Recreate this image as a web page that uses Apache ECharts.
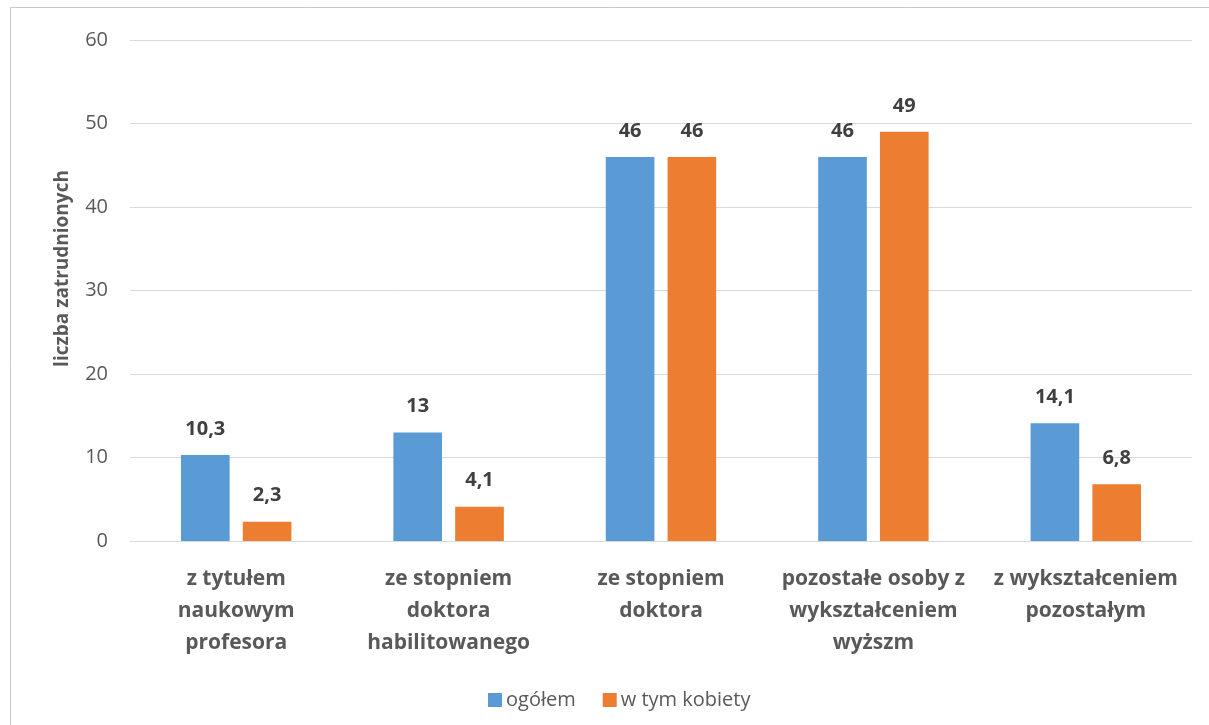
<!DOCTYPE html>
<html>
<head>
<meta charset="utf-8">
<script src="https://cdn.jsdelivr.net/npm/echarts@6/dist/echarts.min.js"></script>
<style>
  html, body { margin: 0; padding: 0; background: #fff; }
  #chart { width: 1209px; height: 725px; }
</style>
</head>
<body>
<div id="chart"></div>
<script>
// Employees by academic degree
const categories = [
  'z tytułem\nnaukowym\nprofesora',
  'ze stopniem\ndoktora\nhabilitowanego',
  'ze stopniem\ndoktora',
  'pozostałe osoby z\nwykształceniem\nwyższm',
  'z wykształceniem\npozostałym'
];
const ogolem = [10.3, 13, 46, 46, 14.1];
const kobiety = [2.3, 4.1, 46, 49, 6.8];
const yTicks = { min: 0, max: 60, interval: 10 };

const FONT = '"Open Sans", "Liberation Sans", sans-serif';
const TEXT = '#595959';

const fmt = p => String(p.value).replace('.', ',');

const valueLabel = {
  show: true, position: 'top', distance: 16, formatter: fmt,
  fontFamily: FONT, fontSize: 20, fontWeight: 'bold', color: '#404040'
};

const chart = echarts.init(document.getElementById('chart'));
chart.setOption({
  animation: false,
  textStyle: { fontFamily: FONT },
  graphic: [{
    type: 'rect',
    shape: { x: 10.5, y: 7.5, width: 1400, height: 900 },
    style: { fill: 'none', stroke: '#c9c9c9', lineWidth: 1 },
    silent: true
  }],
  grid: { left: 130, right: 17, top: 40, bottom: 184 },
  legend: {
    top: 685,
    left: 483,
    itemWidth: 14,
    itemHeight: 14,
    itemGap: 27,
    icon: 'rect',
    textStyle: { fontFamily: FONT, fontSize: 20, color: TEXT, padding: [0, 0, 0, -1] },
    data: ['ogółem', 'w tym kobiety']
  },
  xAxis: {
    type: 'category',
    data: categories,
    axisLine: { lineStyle: { color: '#d9d9d9' } },
    axisTick: { show: false },
    axisLabel: {
      interval: 0,
      margin: 22,
      fontFamily: FONT,
      fontSize: 21,
      fontWeight: 'bold',
      color: TEXT,
      lineHeight: 32,
      align: 'center'
    }
  },
  yAxis: {
    type: 'value',
    min: yTicks.min,
    max: yTicks.max,
    interval: yTicks.interval,
    name: 'liczba zatrudnionych',
    nameLocation: 'middle',
    nameGap: 58,
    nameTextStyle: { fontFamily: FONT, fontSize: 19, fontWeight: 'bold', color: TEXT, padding: [0, 0, 0, 44] },
    axisLine: { show: false },
    axisTick: { show: false },
    axisLabel: { margin: 22, fontFamily: FONT, fontSize: 20, color: TEXT },
    splitLine: { lineStyle: { color: '#d9d9d9', width: 1 } }
  },
  series: [
    {
      name: 'ogółem',
      type: 'bar',
      data: ogolem,
      barGap: '27%',
      barCategoryGap: '48%',
      itemStyle: { color: '#5b9bd5' },
      label: valueLabel
    },
    {
      name: 'w tym kobiety',
      type: 'bar',
      data: kobiety,
      barGap: '27%',
      barCategoryGap: '48%',
      itemStyle: { color: '#ed7d31' },
      label: valueLabel
    }
  ]
});
</script>
</body>
</html>
